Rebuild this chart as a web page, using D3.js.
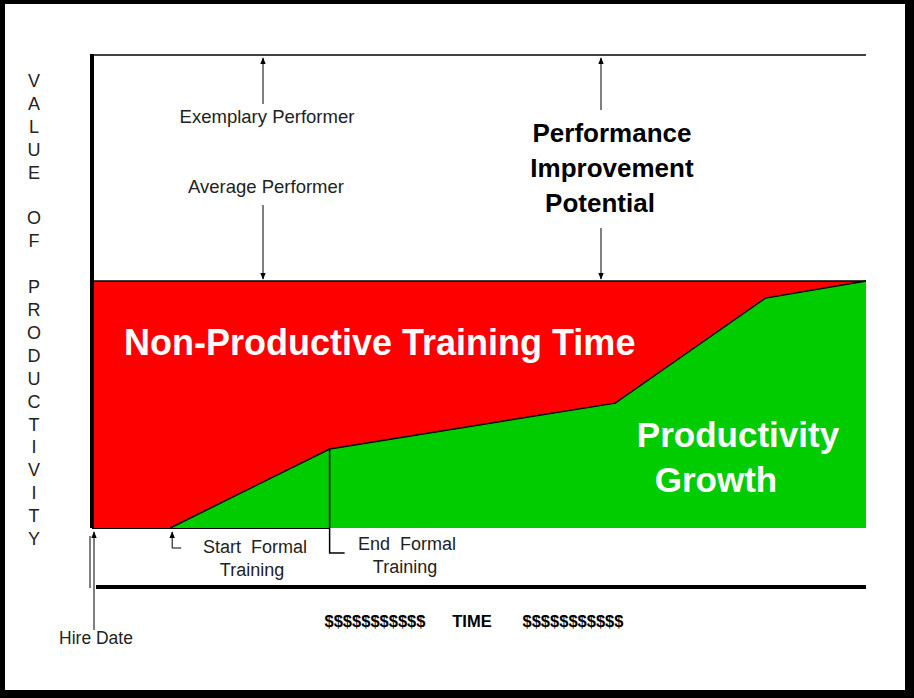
<!DOCTYPE html>
<html>
<head>
<meta charset="utf-8">
<script src="https://cdn.jsdelivr.net/npm/d3@7"></script>
<style>
body { margin: 0; background: #fff; }
text { font-family: "Liberation Sans", Arial, sans-serif; }
</style>
</head>
<body>
<div class="work"></div>
<script>
// time in % of horizon, value in % of max productivity
var growthTime  = [10.1, 30.7, 67.6, 87.0, 100],
	growthValue = [0, 16.7, 26.4, 48.6, 52.2],
	averageLevel = 52.2,
	exemplaryLevel = 100,
	startTraining = 10.1,
	endTraining = 30.7,
	yLetters = ["V","A","L","U","E","","O","F","","P","R","O","D","U","C","T","I","V","I","T","Y"];

var width = 914, height = 698;

var svg = d3.select(".work").append("svg")
	.attr("width", width)
	.attr("height", height);

var x = d3.scaleLinear().domain([0, 100]).range([92, 866]),
	y = d3.scaleLinear().domain([0, 100]).range([528, 55]);

// frame
svg.append("rect").attr("x", 0).attr("y", 0).attr("width", width).attr("height", height).attr("fill", "#000");
svg.append("rect").attr("x", 5).attr("y", 4).attr("width", 900).attr("height", 686).attr("fill", "#fff");

svg.append("defs").append("marker")
	.attr("id", "ah").attr("viewBox", "0 0 10 10").attr("refX", 9).attr("refY", 5)
	.attr("markerWidth", 7).attr("markerHeight", 7).attr("orient", "auto-start-reverse")
	.append("path").attr("d", "M0,1L10,5L0,9z").attr("fill", "#000");

// red training band
svg.append("rect")
	.attr("x", x(0)).attr("y", y(averageLevel))
	.attr("width", x(100) - x(0)).attr("height", y(0) - y(averageLevel))
	.attr("fill", "#ff0000");

var pts = growthTime.map(function(t, i) { return [t, growthValue[i]]; });
var area = d3.area().x(function(d) { return x(d[0]); }).y0(y(0)).y1(function(d) { return y(d[1]); });
svg.append("path").datum(pts).attr("d", area).attr("fill", "#00cc00");
svg.append("path").datum(pts)
	.attr("d", d3.line().x(function(d) { return x(d[0]); }).y(function(d) { return y(d[1]); }))
	.attr("fill", "none").attr("stroke", "#000").attr("stroke-width", 1.5);

svg.append("rect").attr("x", x(0)).attr("y", y(0)).attr("width", x(endTraining) - x(0)).attr("height", 1).attr("fill", "#000");

// lines
svg.append("line").attr("x1", x(0)).attr("x2", x(100)).attr("y1", y(exemplaryLevel)).attr("y2", y(exemplaryLevel)).attr("stroke", "#000").attr("stroke-width", 1.5);
svg.append("line").attr("x1", x(0)).attr("x2", x(100)).attr("y1", y(averageLevel)).attr("y2", y(averageLevel)).attr("stroke", "#000").attr("stroke-width", 1.5);
svg.append("line").attr("x1", x(0)).attr("x2", x(0)).attr("y1", y(exemplaryLevel) - 1).attr("y2", y(0)).attr("stroke", "#000").attr("stroke-width", 4);

// time axis
svg.append("line").attr("x1", 96).attr("x2", x(100)).attr("y1", 587).attr("y2", 587).attr("stroke", "#000").attr("stroke-width", 4);

// hire date
svg.append("line").attr("x1", 90).attr("x2", 90).attr("y1", 536).attr("y2", 588).attr("stroke", "#000");
svg.append("line").attr("x1", 94).attr("x2", 94).attr("y1", 630).attr("y2", 532).attr("stroke", "#000").attr("marker-end", "url(#ah)");

function label(t, cx, cy, size, opts) {
	opts = opts || {};
	return svg.append("text").attr("x", cx).attr("y", cy)
		.attr("text-anchor", opts.anchor || "middle")
		.attr("font-size", size)
		.attr("font-weight", opts.bold ? "bold" : "normal")
		.attr("fill", opts.fill || "#222")
		.attr("xml:space", "preserve")
		.text(t);
}

label("Hire Date", 96, 644, 17.5);

// start / end training
svg.append("path").attr("d", "M" + (x(startTraining) + 11) + ",548H" + (x(startTraining) + 2) + "V532")
	.attr("fill", "none").attr("stroke", "#000").attr("marker-end", "url(#ah)");
svg.append("path").attr("d", "M" + x(endTraining) + "," + y(growthValue[1]) + "V553H" + (x(endTraining) + 15))
	.attr("fill", "none").attr("stroke", "#000").attr("stroke-width", 1.5);
label("Start  Formal", 255, 553, 18);
label("Training", 252, 576, 18);
label("End  Formal", 407, 550, 18);
label("Training", 405, 573, 18);

// money / time
label("$$$$$$$$$$$", 375, 627, 16.5, {bold: true, fill: "#000"});
label("TIME", 472, 627, 16.5, {bold: true, fill: "#000"});
label("$$$$$$$$$$$", 573, 627, 16.5, {bold: true, fill: "#000"});

// performer arrows
svg.append("line").attr("x1", 263).attr("x2", 263).attr("y1", 104).attr("y2", 58).attr("stroke", "#000").attr("marker-end", "url(#ah)");
svg.append("line").attr("x1", 263).attr("x2", 263).attr("y1", 205).attr("y2", 279).attr("stroke", "#000").attr("marker-end", "url(#ah)");
svg.append("line").attr("x1", 601).attr("x2", 601).attr("y1", 110).attr("y2", 58).attr("stroke", "#000").attr("marker-end", "url(#ah)");
svg.append("line").attr("x1", 601).attr("x2", 601).attr("y1", 228).attr("y2", 279).attr("stroke", "#000").attr("marker-end", "url(#ah)");
label("Exemplary Performer", 267, 123, 18.5);
label("Average Performer", 266, 193, 18.5);
label("Performance", 612, 142, 26, {bold: true, fill: "#000"});
label("Improvement", 612, 177, 26, {bold: true, fill: "#000"});
label("Potential", 600, 212, 26, {bold: true, fill: "#000"});

// region labels
label("Non-Productive Training Time", 124, 355, 36, {bold: true, fill: "#fff", anchor: "start"});
label("Productivity", 738, 447, 35, {bold: true, fill: "#fff"});
label("Growth", 716, 492, 35, {bold: true, fill: "#fff"});

// y label
svg.selectAll(".yl").data(yLetters).enter().append("text")
	.attr("x", 34).attr("y", function(d, i) { return 87 + i * 22.9; })
	.attr("text-anchor", "middle").attr("font-size", 18).attr("fill", "#222")
	.text(function(d) { return d; });
</script>
</body>
</html>
